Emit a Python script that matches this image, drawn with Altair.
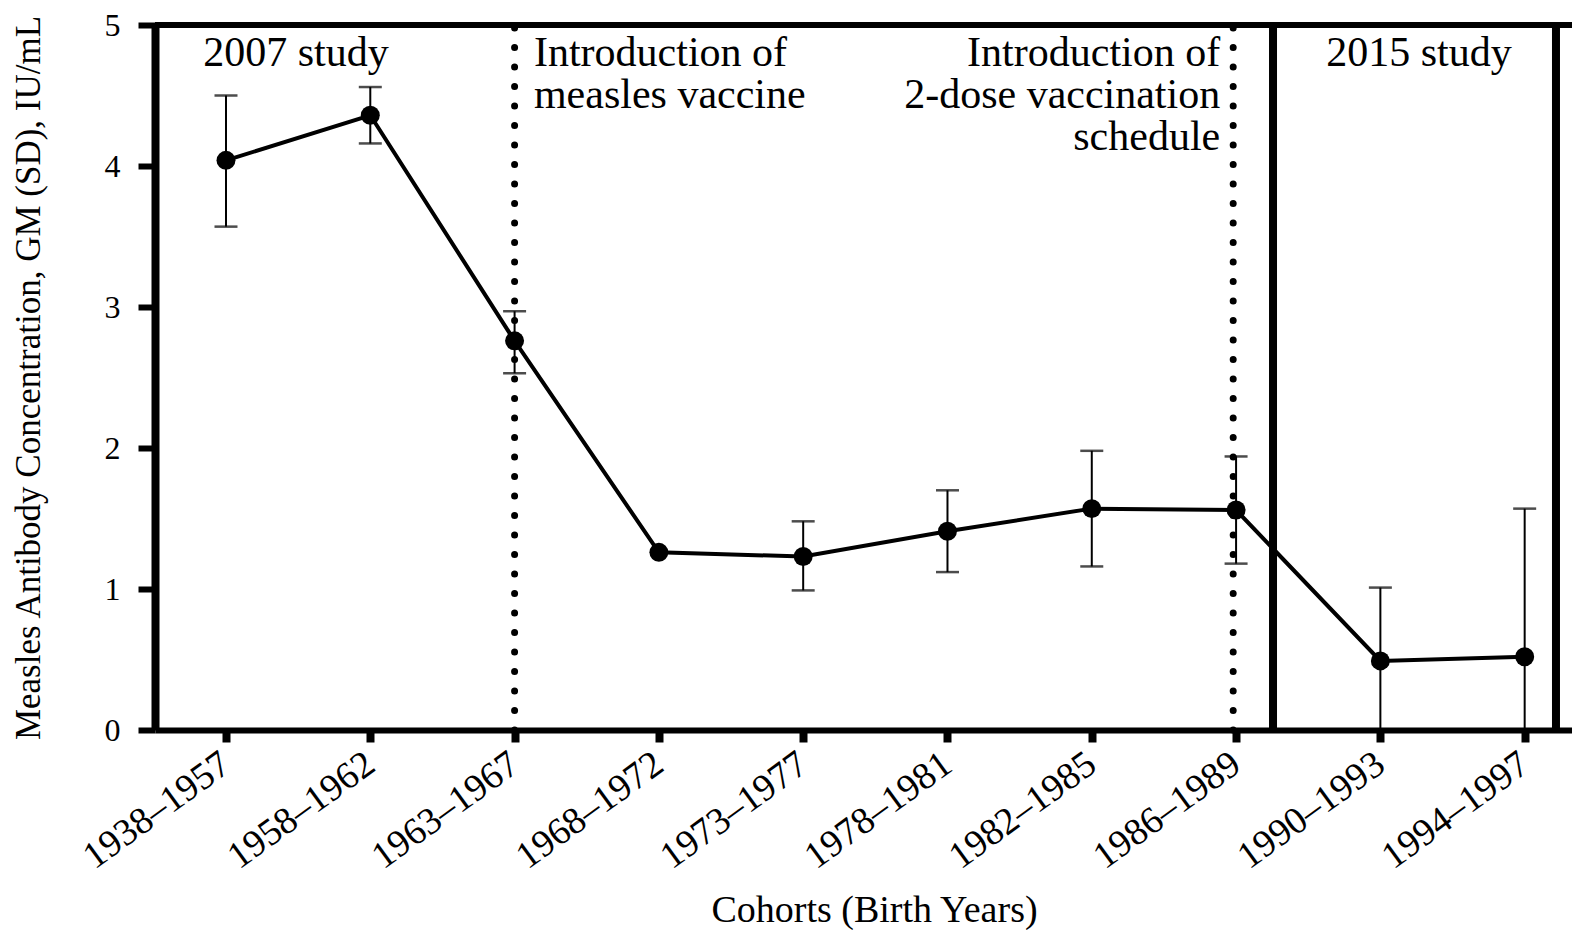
import altair as alt
import pandas as pd

# ---- data ----
cohorts = ["1938–1957", "1958–1962", "1963–1967", "1968–1972", "1973–1977",
           "1978–1981", "1982–1985", "1986–1989", "1990–1993", "1994–1997"]
gm_values = [4.04, 4.36, 2.76, 1.26, 1.23, 1.41, 1.57, 1.56, 0.49, 0.52]
sd_lower = [3.57, 4.16, 2.53, 1.26, 0.99, 1.12, 1.16, 1.18, 0.00, 0.00]
sd_upper = [4.50, 4.56, 2.97, 1.26, 1.48, 1.70, 1.98, 1.94, 1.01, 1.57]
y_ticks = [0, 1, 2, 3, 4, 5]

label_2007 = ["2007 study"]
label_2015 = ["2015 study"]
label_measles = ["Introduction of", "measles vaccine"]
label_2dose = ["Introduction of", "2-dose vaccination", "schedule"]
event_cohorts = ["1963–1967", "1986–1989"]

df = pd.DataFrame({
    "idx": list(range(len(cohorts))),
    "cohort": cohorts,
    "gm": gm_values,
    "lo": sd_lower,
    "hi": sd_upper,
})

FONT = "Liberation Serif"
W, H = 1417, 705
X0, X1 = -0.492, 9.328
xscale = alt.Scale(domain=[X0, X1], nice=False, zero=False)
yscale = alt.Scale(domain=[0, 5], nice=False, zero=False)
LINE_STEP = 0.298  # one text line in data units

label_expr = "[" + ",".join("'" + c + "'" for c in cohorts) + "][datum.value]"
X_TITLE = "Cohorts (Birth Years)"
Y_TITLE = "Measles Antibody Concentration, GM (SD), IU/mL"

x_axis = alt.Axis(
    values=list(range(len(cohorts))), labelExpr=label_expr,
    labelAngle=324, labelAlign="right", labelBaseline="middle",
    labelFontSize=38, labelPadding=18, labelOverlap=False, labelFlush=False,
    tickSize=12, tickWidth=8, domainWidth=6, grid=False,
    title=X_TITLE, titleFontSize=38, titleFontWeight="normal",
    titleX=719, titleY=191, titleAlign="center", titleBaseline="alphabetic",
    titleAngle=0,
)
y_axis = alt.Axis(
    values=y_ticks, format="d", labelFontSize=32, labelPadding=18,
    tickSize=17, tickWidth=6, domainWidth=8, grid=False,
    title=Y_TITLE,
    titleFontSize=35, titleFontWeight="normal", titleAngle=270,
    titleX=-109, titleY=H / 2, titleAlign="center", titleBaseline="bottom",
)


def X(field):
    return alt.X(field, scale=xscale, axis=x_axis, title=X_TITLE)


def Y(field):
    return alt.Y(field, scale=yscale, axis=y_axis, title=Y_TITLE)


base = alt.Chart(df)

line = base.mark_line(color="black", strokeWidth=4).encode(
    x=X("idx:Q"), y=Y("gm:Q"))

err = base.transform_filter("datum.hi > datum.gm")
err_rule = err.mark_rule(color="black", strokeWidth=2).encode(
    x=X("idx:Q"), y=Y("lo:Q"), y2="hi:Q")
cap_hi = err.mark_tick(color="black", orient="horizontal", size=23, thickness=2.5).encode(
    x=X("idx:Q"), y=Y("hi:Q"))
cap_lo = err.mark_tick(color="black", orient="horizontal", size=23, thickness=2.5).encode(
    x=X("idx:Q"), y=Y("lo:Q"))

points = base.mark_point(filled=True, color="black", opacity=1, size=360).encode(
    x=X("idx:Q"), y=Y("gm:Q"))

# event lines (dotted) at the cohorts where programme changes happened
events = pd.DataFrame({"x": [cohorts.index(c) - (0.02 if i else 0.0)
                             for i, c in enumerate(event_cohorts)]})
dotted = alt.Chart(events).mark_rule(
    color="black", strokeWidth=7, strokeDash=[0.1, 19.4], strokeCap="round"
).encode(x=X("x:Q"), y=alt.value(H), y2=alt.value(0))

# solid separators of the 2015 study block
seps = pd.DataFrame({"x": [7.256, 9.217]})
solid = alt.Chart(seps).mark_rule(color="black", strokeWidth=8).encode(
    x=X("x:Q"), y=alt.value(H), y2=alt.value(0))

top_rule = alt.Chart(alt.Data(values=[{"a": 1}])).mark_rule(
    color="black", strokeWidth=6
).encode(y=alt.value(0), x=alt.value(0), x2=alt.value(W))


def note(lines, xpos, align):
    t = pd.DataFrame({
        "x": [xpos] * len(lines),
        "y": [4.71 - LINE_STEP * i for i in range(len(lines))],
        "t": lines,
    })
    return alt.Chart(t).mark_text(
        font=FONT, fontSize=42, color="black", align=align, baseline="alphabetic",
    ).encode(x=X("x:Q"), y=Y("y:Q"), text="t:N")


chart = alt.layer(
    line, dotted, solid, err_rule, cap_hi, cap_lo, points, top_rule,
    note(label_2007, 0.485, "center"),
    note(label_measles, 2.134, "left"),
    note(label_2dose, 6.89, "right"),
    note(label_2015, 8.267, "center"),
).properties(
    width=W, height=H,
    autosize=alt.AutoSizeParams(type="none"),
    padding={"left": 147, "top": 17, "right": 0, "bottom": 200},
    background="white",
).configure(font=FONT).configure_view(stroke=None).configure_axis(
    labelFont=FONT, titleFont=FONT, labelColor="black", titleColor="black",
    domainColor="black", tickColor="black",
)

chart.save("out.html", embed_options={"renderer": "svg", "actions": False})
